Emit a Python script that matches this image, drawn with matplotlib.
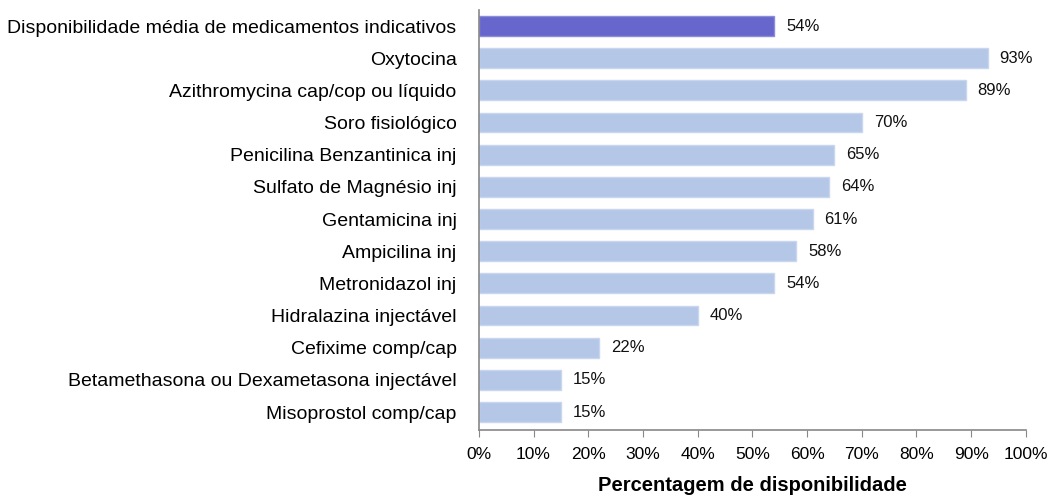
import matplotlib.pyplot as plt
from matplotlib.ticker import PercentFormatter

plt.rcParams['font.family'] = ['Liberation Sans', 'DejaVu Sans']

medicamentos = [
    'Disponibilidade média de medicamentos indicativos',
    'Oxytocina',
    'Azithromycina cap/cop ou líquido',
    'Soro fisiológico',
    'Penicilina Benzantinica inj',
    'Sulfato de Magnésio inj',
    'Gentamicina inj',
    'Ampicilina inj',
    'Metronidazol inj',
    'Hidralazina injectável',
    'Cefixime comp/cap',
    'Betamethasona ou Dexametasona injectável',
    'Misoprostol comp/cap',
]
disponibilidade = [54, 93, 89, 70, 65, 64, 61, 58, 54, 40, 22, 15, 15]

cores = ['#6666cc'] + ['#b4c7e7'] * (len(medicamentos) - 1)
bordas = ['#8c8cd9'] + ['#c8d6ee'] * (len(medicamentos) - 1)

fig = plt.figure(figsize=(10.5, 4.96), dpi=100)
ax = fig.add_axes([0.456, 0.133, 0.521, 0.847])

y = range(len(medicamentos))
ax.barh(y, disponibilidade, height=0.62, color=cores, edgecolor=bordas, linewidth=1)

for i, v in enumerate(disponibilidade):
    ax.text(v + 2.2, i, f'{v}%', va='center', ha='left', fontsize=12, color='#111111')

ax.set_xlim(0, 100)
ax.set_ylim(len(medicamentos) - 0.44, -0.5)
ax.set_xticks(range(0, 101, 10))
ax.xaxis.set_major_formatter(PercentFormatter(decimals=0))
ax.set_yticks(list(y))
ax.set_yticklabels(medicamentos, fontsize=14)
ax.tick_params(axis='y', length=0, pad=16)
ax.tick_params(axis='x', length=5, color='#888888', labelsize=12.5, pad=7)

for s in ['top', 'right']:
    ax.spines[s].set_visible(False)
for s in ['left', 'bottom']:
    ax.spines[s].set_color('#888888')
    ax.spines[s].set_linewidth(1.2)

ax.set_xlabel('Percentagem de disponibilidade', fontsize=14.5, fontweight='bold', labelpad=10)

fig.savefig('out.png', dpi=100)
